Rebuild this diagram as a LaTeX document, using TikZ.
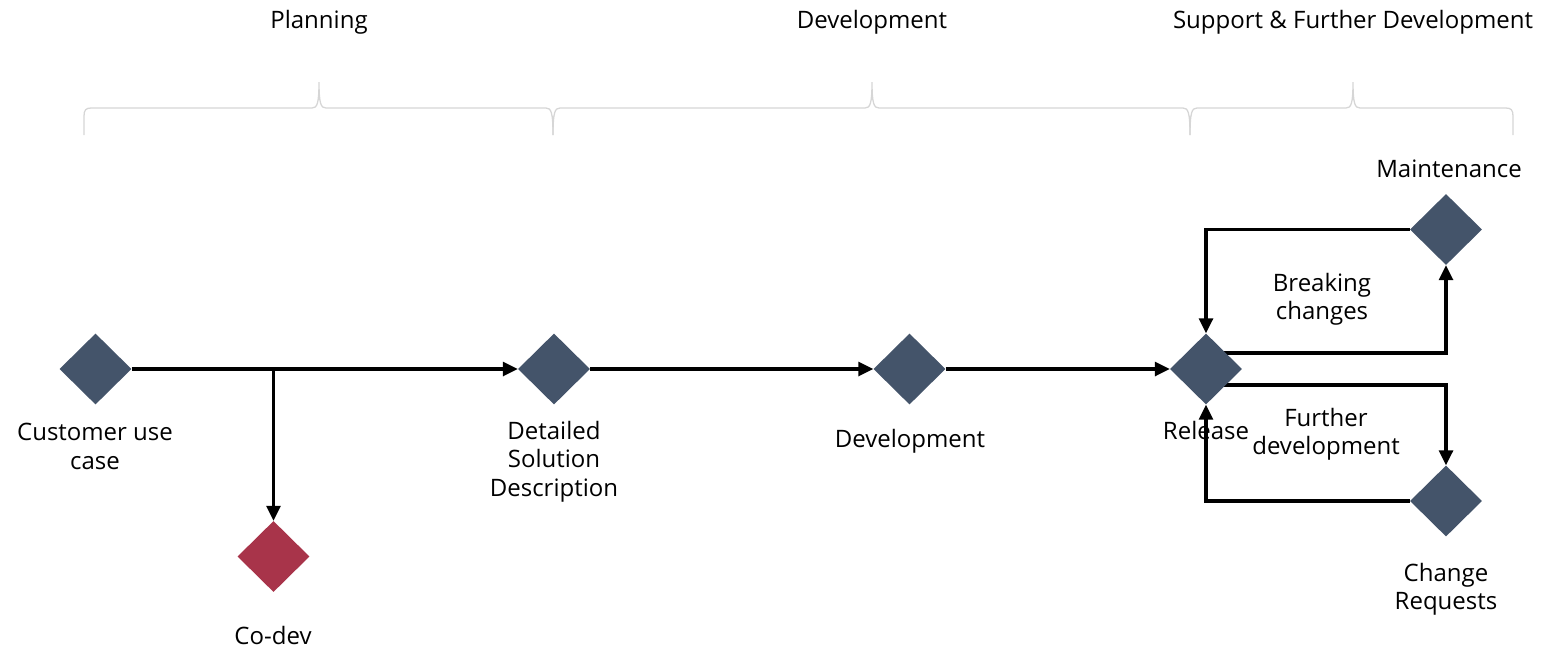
\documentclass[tikz,border=0pt]{standalone}
\usepackage{fontspec}
\setmainfont{Open Sans}
\usetikzlibrary{shapes.geometric,arrows.meta,backgrounds}
\definecolor{slate}{HTML}{44546A}
\definecolor{codered}{HTML}{A8344A}
\definecolor{bracegray}{HTML}{D6D6D6}
\begin{document}
\begin{tikzpicture}[x=1pt,y=-1pt,
  dia/.style={diamond,aspect=1,minimum width=72pt,minimum height=71pt,inner sep=0pt,fill=slate,draw=none},
  lbl/.style={align=center,inner sep=0pt,font=\fontsize{24}{28.5}\selectfont},
  conn/.style={line width=3.1pt,-{Triangle[length=15pt,width=14pt]}},
  brc/.style={draw=bracegray,line width=1.3pt}]
\useasboundingbox (0,0) rectangle (1542,649);

% headers
\node[lbl] (hplan) at (319,22) {Planning};
\node[lbl] (hdev) at (872,22) {Development};
\node[lbl] (hsup) at (1353,22) {Support \& Further Development};

% braces
\draw[brc] (84,135) -- (84,116) .. controls (84,110) and (86,108) .. (91,108) -- (312,108)
  .. controls (317,108) and (319,104) .. (319,82)
  .. controls (319,104) and (321,108) .. (326,108) -- (546,108)
  .. controls (551,108) and (553,112) .. (553,135);
\draw[brc] (553,135) .. controls (553,112) and (555,108) .. (560,108) -- (865,108)
  .. controls (870,108) and (872,104) .. (872,82)
  .. controls (872,104) and (874,108) .. (879,108) -- (1183,108)
  .. controls (1188,108) and (1190,112) .. (1190,135);
\draw[brc] (1190,135) .. controls (1190,112) and (1192,108) .. (1197,108) -- (1346,108)
  .. controls (1351,108) and (1353,104) .. (1353,82)
  .. controls (1353,104) and (1355,108) .. (1360,108) -- (1506,108)
  .. controls (1511,108) and (1513,110) .. (1513,116) -- (1513,135);

% diamonds
\node[dia] (cus) at (95.5,369) {};
\node[dia,fill=codered] (cod) at (273.5,556.5) {};
\node[dia] (det) at (554,369) {};
\node[dia] (dev) at (909.5,369) {};
\node[dia] (rel) at (1206,369) {};
\node[dia] (mnt) at (1446,229.5) {};
\node[dia] (chg) at (1446,501) {};

% labels
\node[lbl] (lcus) at (95,446.5) {Customer use\\case};
\node[lbl] (lcod) at (273,635.5) {Co-dev};
\node[lbl] (ldet) at (554,461.5) {Detailed\\Solution\\Description};
\node[lbl] (ldev) at (910,441.5) {Development};
\node[lbl] (lrel) at (1206,430.5) {Release};
\node[lbl] (lbrk) at (1322,299.5) {Breaking\\changes};
\node[lbl] (lfur) at (1326,434.5) {Further\\development};
\node[lbl] (lmnt) at (1449,168.5) {Maintenance};
\node[lbl] (lchg) at (1446,589.5) {Change\\Requests};

% connectors
\coordinate (br) at (cod.north |- cus.east);
\draw[conn] (cus.east) -- (det.west);
\draw[conn] (br) -- (cod.north);
\draw[conn] (det.east) -- (dev.west);
\draw[conn] (dev.east) -- (rel.west);
\draw[conn] (mnt.west) -| (rel.north);
\draw[conn] (chg.west) -| (rel.south);
\begin{pgfonlayer}{background}
\coordinate (relup) at ([yshift=16pt]rel.center);
\coordinate (reldn) at ([yshift=-16pt]rel.center);
\draw[conn] (relup) -| (mnt.south);
\draw[conn] (reldn) -| (chg.north);
\end{pgfonlayer}
\end{tikzpicture}
\end{document}
